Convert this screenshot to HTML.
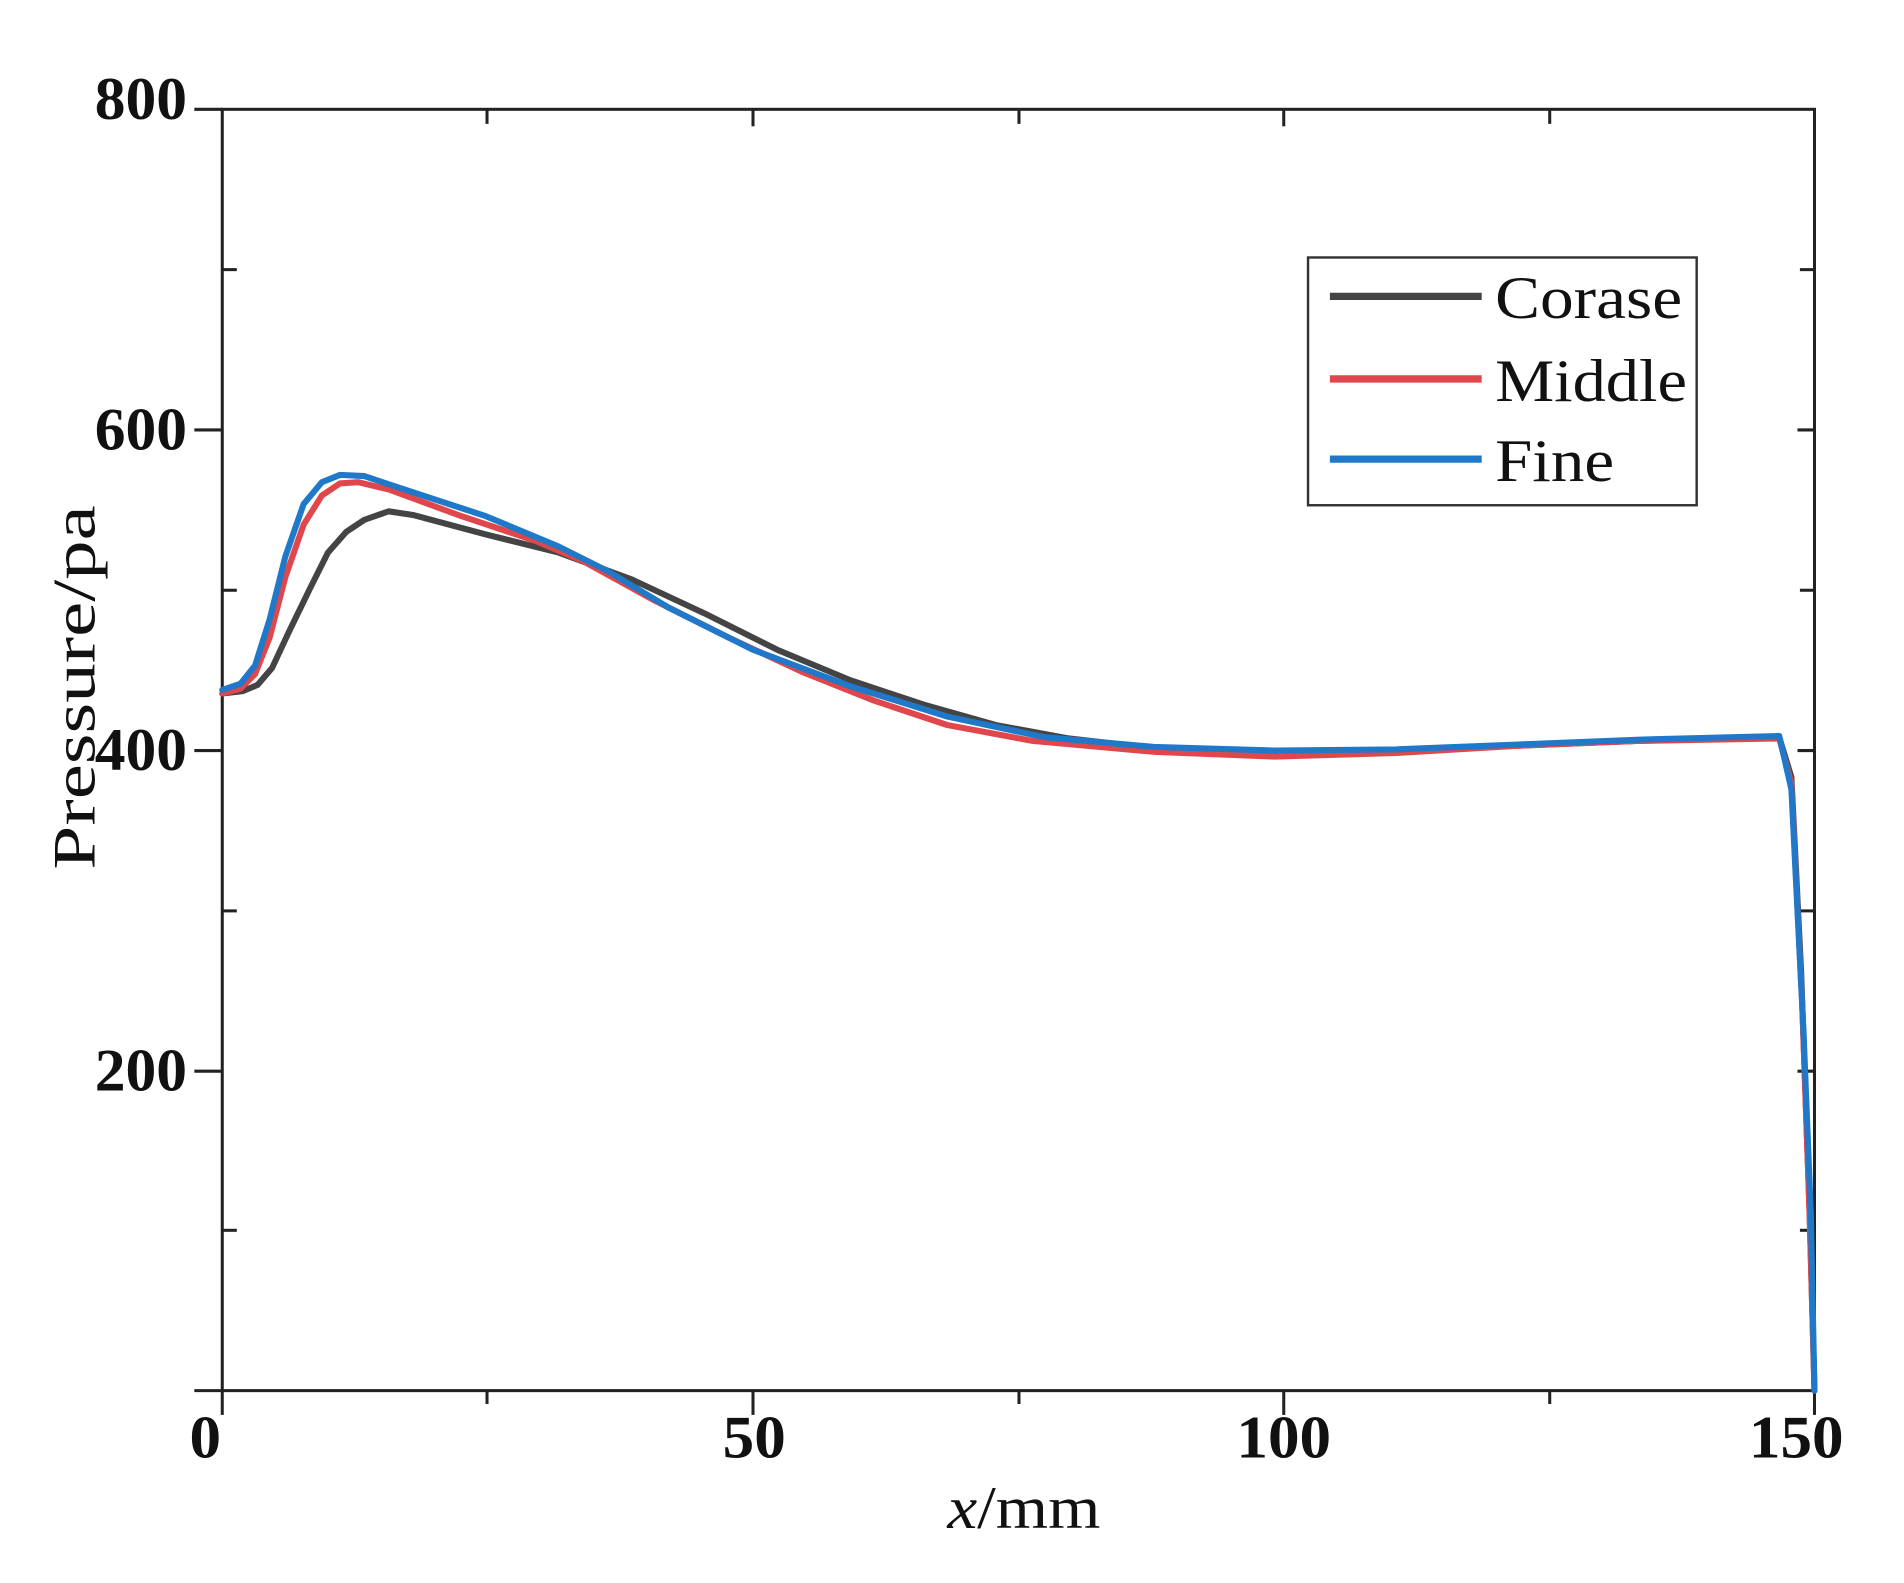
<!DOCTYPE html>
<html><head><meta charset="utf-8"><style>
html,body{margin:0;padding:0;background:#fff}
svg{display:block}
</style></head><body>
<svg width="1904" height="1583" viewBox="0 0 1567.7 1303.4" xmlns="http://www.w3.org/2000/svg" font-family="Liberation Serif, serif">
<rect x="0" y="0" width="1567.7" height="1303.4" fill="#fff"/>
<rect x="183" y="90" width="1311" height="1055" fill="none" stroke="#222" stroke-width="2.5"/>
<g stroke="#222" stroke-width="2.5">
<line x1="160" y1="90" x2="183" y2="90"/><line x1="160" y1="354" x2="183" y2="354"/><line x1="160" y1="618" x2="183" y2="618"/><line x1="160" y1="882" x2="183" y2="882"/><line x1="160" y1="1145" x2="183" y2="1145"/>
<line x1="183" y1="222" x2="195" y2="222"/><line x1="183" y1="486" x2="195" y2="486"/><line x1="183" y1="750" x2="195" y2="750"/><line x1="183" y1="1013" x2="195" y2="1013"/>
<line x1="1482" y1="222" x2="1494" y2="222"/><line x1="1482" y1="486" x2="1494" y2="486"/><line x1="1482" y1="750" x2="1494" y2="750"/><line x1="1482" y1="1013" x2="1494" y2="1013"/>
<line x1="1480" y1="354" x2="1494" y2="354"/><line x1="1480" y1="618" x2="1494" y2="618"/><line x1="1480" y1="882" x2="1494" y2="882"/>
<line x1="183" y1="1145" x2="183" y2="1165"/><line x1="620" y1="1145" x2="620" y2="1165"/><line x1="1057" y1="1145" x2="1057" y2="1165"/><line x1="1494" y1="1145" x2="1494" y2="1165"/>
<line x1="401" y1="1145" x2="401" y2="1156"/><line x1="839" y1="1145" x2="839" y2="1156"/><line x1="1276" y1="1145" x2="1276" y2="1156"/>
<line x1="401" y1="90" x2="401" y2="102"/><line x1="620" y1="90" x2="620" y2="104"/><line x1="839" y1="90" x2="839" y2="102"/><line x1="1057" y1="90" x2="1057" y2="104"/><line x1="1276" y1="90" x2="1276" y2="102"/>
</g>
<g font-weight="bold" font-size="50" fill="#111">
<text x="78" y="98" textLength="76" lengthAdjust="spacingAndGlyphs">800</text>
<text x="78" y="370" textLength="76" lengthAdjust="spacingAndGlyphs">600</text>
<text x="78" y="634" textLength="76" lengthAdjust="spacingAndGlyphs">400</text>
<text x="78" y="898" textLength="76" lengthAdjust="spacingAndGlyphs">200</text>
<text x="156" y="1200" textLength="26" lengthAdjust="spacingAndGlyphs">0</text>
<text x="595" y="1200" textLength="52" lengthAdjust="spacingAndGlyphs">50</text>
<text x="1018" y="1200" textLength="78" lengthAdjust="spacingAndGlyphs">100</text>
<text x="1440" y="1200" textLength="78" lengthAdjust="spacingAndGlyphs">150</text>
</g>
<text x="780" y="1258" font-size="50" fill="#111" textLength="126" lengthAdjust="spacingAndGlyphs"><tspan font-style="italic">x</tspan>/mm</text>
<text transform="translate(78,566) rotate(-90)" font-size="50" text-anchor="middle" fill="#111" textLength="300" lengthAdjust="spacingAndGlyphs">Pressure/pa</text>
<g fill="none" stroke-width="5" stroke-linejoin="round" stroke-linecap="round">
<polyline stroke="#444" points="183,571 200,569 212,564 224,550 238,520 255,485 270,455 285,438 300,428 320,421 340,424 400,440 460,455 520,477 580,505 640,535 700,560 760,580 820,597 880,608 950,616 1050,619 1150,618 1250,614 1350,610 1465,607 1475,640 1483,800 1490,1000 1494,1145"/>
<polyline stroke="#e0474c" points="183,571 198,567 210,555 222,525 235,475 250,432 265,408 280,398 295,397 320,403 380,425 440,445 480,462 540,495 600,525 660,553 720,577 780,597 850,610 950,619 1050,623 1150,620 1250,614 1350,610 1465,608 1475,645 1484,830 1490,1000 1494,1145"/>
<polyline stroke="#1f78c8" points="183,568 198,563 210,548 222,510 235,458 250,415 265,397 280,391 300,392 330,402 400,425 460,450 500,470 550,500 620,535 700,565 780,590 860,607 950,615 1050,618 1150,617 1250,613 1350,609 1465,606 1475,650 1485,850 1491,1000 1494,1145"/>
</g>
<rect x="1077" y="212" width="320" height="204" fill="#fff" stroke="#333" stroke-width="2"/>
<g stroke-width="6">
<line x1="1095" y1="244" x2="1220" y2="244" stroke="#444"/>
<line x1="1095" y1="312" x2="1220" y2="312" stroke="#e0474c"/>
<line x1="1095" y1="378" x2="1220" y2="378" stroke="#1f78c8"/>
</g>
<g font-size="50" fill="#111">
<text x="1231" y="262" textLength="154" lengthAdjust="spacingAndGlyphs">Corase</text>
<text x="1231" y="330" textLength="158" lengthAdjust="spacingAndGlyphs">Middle</text>
<text x="1231" y="396" textLength="98" lengthAdjust="spacingAndGlyphs">Fine</text>
</g>
</svg>
</body></html>
